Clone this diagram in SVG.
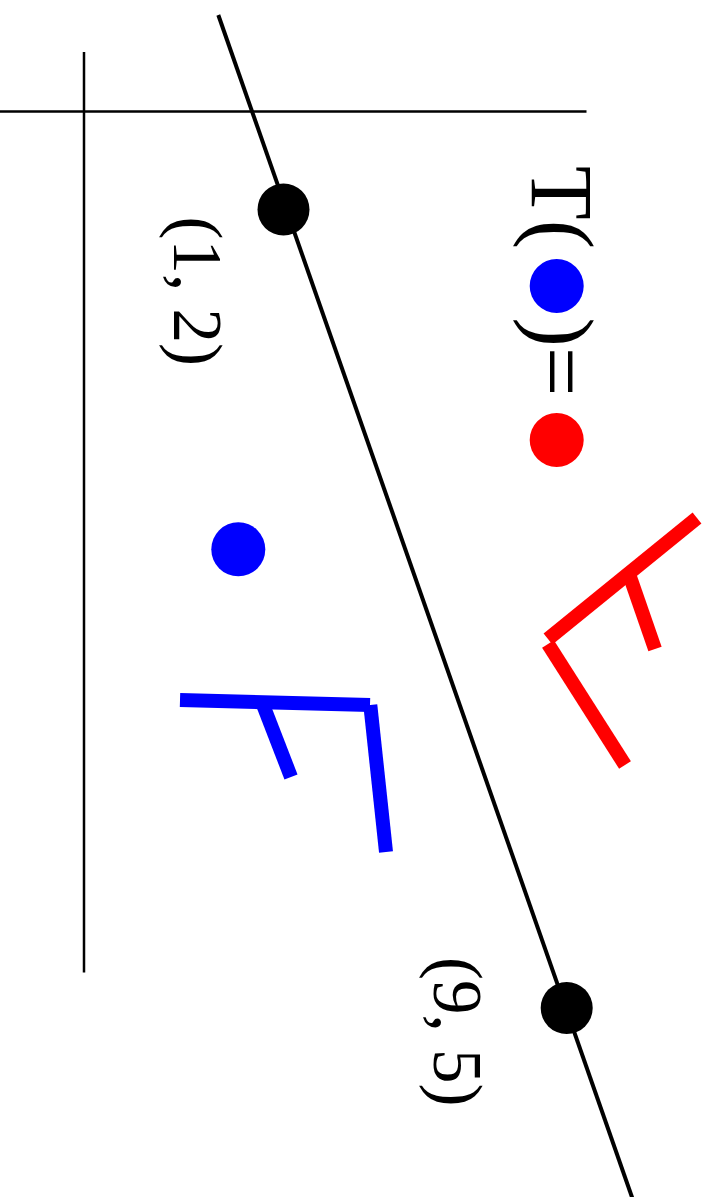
<svg xmlns="http://www.w3.org/2000/svg" width="711" height="1197" viewBox="0 0 711 1197">
<style>
.lbl{font-family:"Liberation Serif","Times New Roman",serif;font-feature-settings:"lnum" 1,"onum" 0;fill:#000}
.axis{stroke:#000;stroke-width:2.5;fill:none}
.bl{stroke:#0000ff;stroke-width:14;fill:none;stroke-linecap:butt}
.rd{stroke:#ff0000;stroke-width:14;fill:none;stroke-linecap:butt}
</style>
<rect width="711" height="1197" fill="#fff"/>
<g id="axes">
<line class="axis" x1="0" y1="111.5" x2="586.5" y2="111.5"/>
<line class="axis" x1="84" y1="52" x2="84" y2="972.5"/>
</g>
<g id="connectors">
<line x1="218.3" y1="15" x2="633" y2="1200" stroke="#000" stroke-width="4"/>
</g>
<g id="p12">
<circle cx="283.5" cy="209.5" r="26" fill="#000"/>
<text class="lbl" font-size="69" transform="translate(173.9,216.6) rotate(90)">(1, 2)</text>
</g>
<g id="p95">
<circle cx="566.7" cy="1008" r="26" fill="#000"/>
<text class="lbl" font-size="69" transform="translate(433.9,957) rotate(90)">(9, 5)</text>
</g>
<g id="legend">
<text class="lbl" font-size="88" transform="translate(532,166) rotate(90)">T(</text>
<circle cx="556.7" cy="286" r="27" fill="#0000ff"/>
<text class="lbl" font-size="88" transform="translate(532,317.5) rotate(90)">)=</text>
<circle cx="556.7" cy="440" r="27" fill="#ff0000"/>
</g>
<g id="blue-point">
<circle cx="238.3" cy="549.3" r="27" fill="#0000ff"/>
</g>
<g id="blue-F">
<line class="bl" x1="180" y1="700" x2="370" y2="705"/>
<line class="bl" x1="262" y1="702" x2="291" y2="777"/>
<line class="bl" x1="370.3" y1="705" x2="386" y2="852"/>
</g>
<g id="red-F">
<line class="rd" x1="697" y1="518" x2="548" y2="639"/>
<line class="rd" x1="629" y1="574" x2="655" y2="649"/>
<line class="rd" x1="548" y1="644" x2="625" y2="765"/>
</g>
</svg>
